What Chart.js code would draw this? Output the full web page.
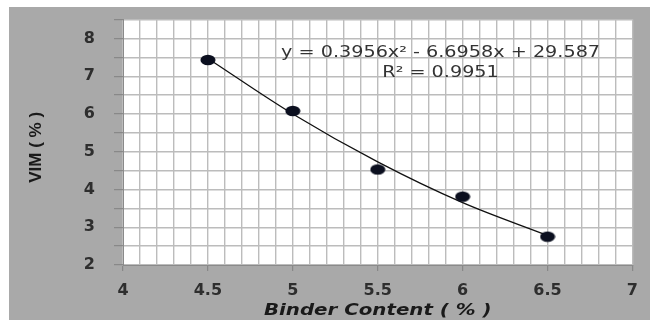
<!DOCTYPE html>
<html>
<head>
<meta charset="utf-8">
<script src="https://cdn.jsdelivr.net/npm/chart.js@4.4.1/dist/chart.umd.min.js"></script>
<style>
  body { margin: 0; background: #fff; }
  #wrap { position: absolute; left: 9px; top: 7px; width: 641px; height: 313px; background: #a9a9a9; }
  #inner { position: absolute; left: 0; top: -16px; width: 639px; height: 329px; }
</style>
</head>
<body>
<div id="wrap"><div id="inner"><canvas id="vimChart"></canvas></div></div>
<script>
// Binder content vs VIM
const binder = [4.5, 5, 5.5, 6, 6.5];
const vim = [7.43, 6.08, 4.53, 3.81, 2.75];

// polynomial trendline (as drawn), same x positions
const trendX = [4.5, 5, 5.5, 6, 6.5];
const trendY = [7.47, 6.0, 4.73, 3.65, 2.78];

const equationText = "y = 0.3956x\u00b2 - 6.6958x + 29.587";
const r2Text = "R\u00b2 = 0.9951";
const xTitle = "Binder Content ( % )";
const yTitle = "VIM ( % )";

// ellipse marker like the original
function makeMarker() {
  const c = document.createElement('canvas');
  c.width = 16; c.height = 12;
  const g = c.getContext('2d');
  g.fillStyle = '#0b0f1f';
  g.beginPath();
  g.ellipse(8, 6, 7.5, 5.3, 0, 0, Math.PI * 2);
  g.fill();
  return c;
}

const isHalf = v => Math.abs(v * 2 - Math.round(v * 2)) < 1e-6;
const isWhole = v => Math.abs(v - Math.round(v)) < 1e-6;

// text drawn slightly stretched sideways, like the source image
function wideText(g, text, x, y, sx) {
  g.save();
  g.translate(x, y);
  g.scale(sx, 1);
  g.fillText(text, 0, 0);
  g.restore();
}

const plotBg = {
  id: 'plotBg',
  beforeDraw(chart) {
    const { ctx, chartArea: a } = chart;
    ctx.save();
    ctx.fillStyle = '#ffffff';
    ctx.fillRect(a.left, a.top, a.right - a.left, a.bottom - a.top);
    ctx.restore();
  }
};

// equation label + axis titles
const labels = {
  id: 'labels',
  afterDraw(chart) {
    const { ctx, scales, chartArea: a } = chart;
    const cx = scales.x.getPixelForValue(5.87);
    ctx.save();
    ctx.textAlign = 'center';
    ctx.textBaseline = 'middle';
    ctx.fillStyle = '#333';
    ctx.font = '16px "DejaVu Sans"';
    wideText(ctx, equationText, cx, scales.y.getPixelForValue(7.62), 1.2);
    wideText(ctx, r2Text, cx, scales.y.getPixelForValue(7.08), 1.2);

    ctx.fillStyle = '#1a1a1a';
    ctx.font = 'italic bold 15px "DejaVu Sans"';
    wideText(ctx, xTitle, (a.left + a.right) / 2, a.bottom + 46, 1.32);

    ctx.translate(27, (a.top + a.bottom) / 2 + 5);
    ctx.rotate(-Math.PI / 2);
    ctx.font = 'bold 17px "Liberation Sans"';
    ctx.fillText(yTitle, 0, 0);
    ctx.restore();
  }
};

const ctx = document.getElementById('vimChart').getContext('2d');

new Chart(ctx, {
  type: 'scatter',
  data: {
    datasets: [
      {
        label: 'VIM',
        data: binder.map((x, i) => ({ x: x, y: vim[i] })),
        pointStyle: makeMarker(),
        order: 0
      },
      {
        label: 'Trend',
        type: 'line',
        data: trendX.map((x, i) => ({ x: x, y: trendY[i] })),
        borderColor: '#111',
        borderWidth: 1.3,
        pointRadius: 0,
        cubicInterpolationMode: 'monotone',
        fill: false,
        order: 1
      }
    ]
  },
  options: {
    responsive: true,
    maintainAspectRatio: false,
    animation: false,
    layout: { padding: { top: 0, right: 15, left: 0, bottom: 0 } },
    plugins: {
      legend: { display: false },
      tooltip: { enabled: false }
    },
    scales: {
      x: {
        type: 'linear',
        min: 4,
        max: 7,
        afterFit: s => { s.height = 55; },
        afterBuildTicks: s => {
          const t = [];
          for (let i = 0; i <= 30; i++) t.push({ value: Math.round((4 + i * 0.1) * 10) / 10 });
          s.ticks = t;
        },
        grid: {
          color: '#bcbcbc',
          lineWidth: 1.4,
          tickLength: 6,
          tickColor: c => isHalf(c.tick.value) ? '#808080' : 'rgba(0,0,0,0)',
          tickWidth: 1
        },
        border: { color: '#8a8a8a', width: 1 },
        ticks: {
          autoSkip: false,
          maxRotation: 0,
          padding: 10,
          color: '#2e2e2e',
          font: { family: 'DejaVu Sans', size: 16, weight: 'bold' },
          callback: v => isHalf(v) ? String(v) : ''
        }
      },
      y: {
        type: 'linear',
        min: 2,
        max: 8.5,
        afterFit: s => { s.width = 114; },
        ticks: {
          stepSize: 0.5,
          autoSkip: false,
          padding: 19,
          color: '#2e2e2e',
          font: { family: 'DejaVu Sans', size: 16, weight: 'bold' },
          callback: v => isWhole(v) ? String(v) : ''
        },
        grid: {
          color: '#bcbcbc',
          lineWidth: 1.4,
          tickLength: 9,
          tickColor: '#808080',
          tickWidth: 1
        },
        border: { color: '#8a8a8a', width: 1 }
      }
    }
  },
  plugins: [plotBg, labels]
});
</script>
</body>
</html>
